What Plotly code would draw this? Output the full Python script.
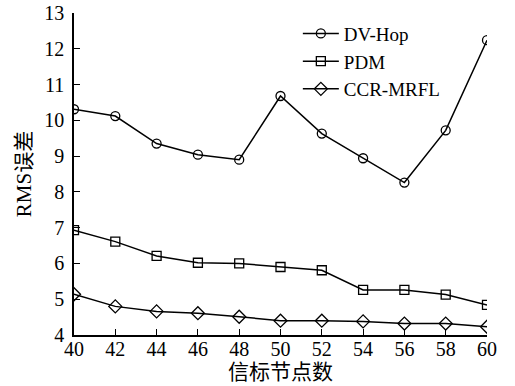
import plotly.graph_objects as go

x_nodes = [40, 42, 44, 46, 48, 50, 52, 54, 56, 58, 60]
dvhop = [10.31, 10.12, 9.35, 9.04, 8.90, 10.68, 9.63, 8.94, 8.26, 9.72, 12.24]
pdm = [6.93, 6.61, 6.21, 6.02, 6.00, 5.90, 5.81, 5.26, 5.26, 5.13, 4.84]
ccr = [5.14, 4.80, 4.66, 4.61, 4.51, 4.40, 4.40, 4.38, 4.32, 4.32, 4.23]
series_names = ["DV-Hop", "PDM", "CCR-MRFL"]
x_ticks = list(range(40, 61, 2))
y_ticks = list(range(4, 14))

font_fam = "Liberation Serif, Times New Roman, Noto Sans CJK SC, serif"

fig = go.Figure()
symbols = ["circle-open", "square-open", "diamond-open"]
for name, ys, sym in zip(series_names, [dvhop, pdm, ccr], symbols):
    fig.add_trace(go.Scatter(
        x=x_nodes, y=ys, name=name, mode="lines+markers",
        line=dict(color="black", width=1.5),
        marker=dict(symbol=sym, size=9 if sym != "diamond-open" else 10,
                    color="black", line=dict(width=1.3, color="black")),
    ))

fig.update_layout(
    width=515, height=386,
    margin=dict(l=74, r=28, t=13, b=51, autoexpand=False),
    paper_bgcolor="white", plot_bgcolor="white",
    font=dict(family=font_fam, size=20, color="black"),
    legend=dict(x=0.542, y=0.995, xanchor="left", yanchor="top",
                bgcolor="rgba(0,0,0,0)", font=dict(size=19),
                tracegroupgap=0, itemwidth=36),
    showlegend=True,
)
fig.update_xaxes(
    range=[40, 60], tickvals=x_ticks, ticktext=[str(v) for v in x_ticks],
    showline=True, linecolor="black", linewidth=1.5, mirror=False,
    ticks="inside", ticklen=6, tickwidth=1.2, tickcolor="black",
    showgrid=False, zeroline=False, automargin=False,
    tickfont=dict(size=20), ticklabeloverflow="allow", ticklabelstandoff=-5,
    title=dict(text="信标节点数", standoff=2, font=dict(size=21)),
)
fig.update_yaxes(
    range=[4, 13], tickvals=y_ticks, ticktext=[str(v) for v in y_ticks],
    showline=True, linecolor="black", linewidth=1.5, mirror=False,
    ticks="inside", ticklen=6, tickwidth=1.2, tickcolor="black",
    showgrid=False, zeroline=False, automargin=False,
    tickfont=dict(size=20), ticklabelstandoff=4, ticklabeloverflow="allow",
    title=dict(text="RMS误差", standoff=7, font=dict(size=21)),
)

fig.write_html("out.html", config={"displayModeBar": False},
               post_script="document.body.style.margin='0';")
